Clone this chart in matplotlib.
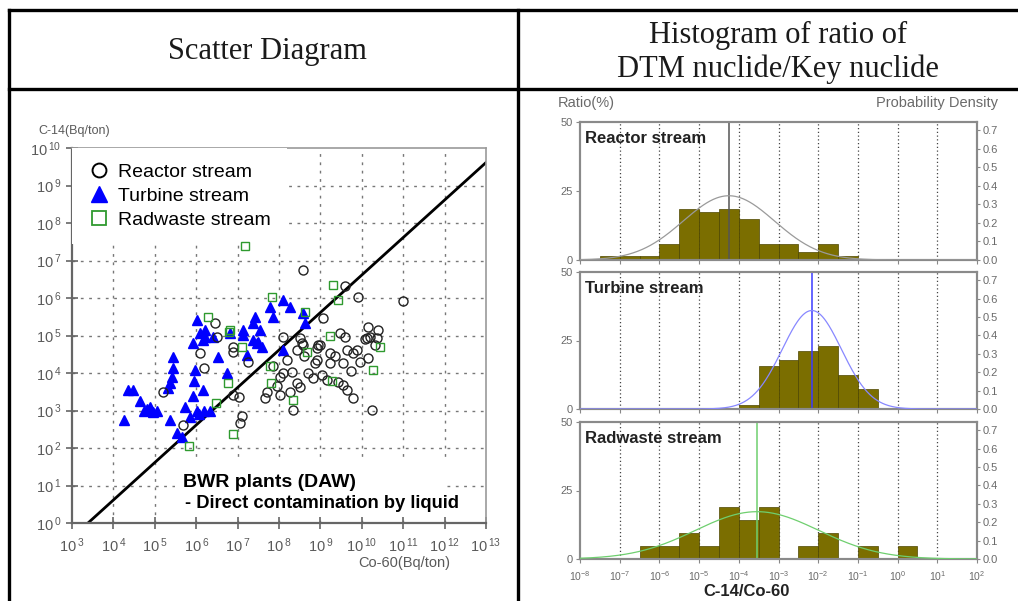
import matplotlib.pyplot as plt
import numpy as np
import matplotlib.ticker as ticker
from matplotlib.lines import Line2D
from matplotlib.patches import Rectangle

plt.rcParams['font.family'] = ['Liberation Sans', 'DejaVu Sans']
plt.rcParams['mathtext.default'] = 'regular'

# ---- scatter data, log10(Bq/ton) ----
reactor_co60 = [5.2, 5.68, 6.09, 6.19, 6.45, 6.5, 6.89, 6.89, 6.89, 7.03, 7.1, 7.06, 7.26,
                8.58, 9.59, 9.91, 11.0, 9.06, 8.1, 8.51, 8.58, 8.94, 9.47, 9.59, 10.15, 10.2,
                10.37, 10.08, 8.43, 8.55, 8.92, 8.99, 9.23, 9.64, 9.79, 9.88, 9.96, 10.13,
                10.32, 10.15, 8.92, 8.87, 9.23, 9.55, 8.19, 8.1, 8.31, 8.02, 8.7, 8.82, 9.04,
                9.16, 9.43, 9.55, 9.64, 9.79, 7.71, 7.66, 8.02, 8.27, 8.51, 8.34, 10.25, 8.43,
                7.85, 7.95, 8.6, 9.35, 9.75, 10.4]
reactor_c14 = [3.49, 2.61, 4.53, 4.13, 5.33, 4.96, 4.69, 4.56, 3.41, 3.36, 2.85, 2.67, 4.29,
               6.75, 6.32, 6.03, 5.92, 5.47, 4.96, 4.93, 4.75, 4.75, 5.07, 4.96, 5.23, 4.96,
               4.93, 4.9, 4.61, 4.8, 4.67, 4.75, 4.53, 4.61, 4.53, 4.61, 4.29, 4.93,
               4.75, 4.4, 4.35, 4.27, 4.27, 4.27, 4.35, 4.0, 4.03, 3.89, 4.0, 3.87, 3.95,
               3.81, 3.76, 3.68, 3.55, 3.33, 3.49, 3.33, 3.41, 3.49, 3.63, 3.01, 3.01, 3.73,
               4.2, 3.65, 4.45, 4.45, 4.05, 5.15]

turbine_co60 = [4.26, 4.35, 4.47, 4.64, 4.74, 4.88, 5.05, 4.95, 4.8, 5.37, 5.43, 5.44, 5.41,
                5.37, 5.33, 5.53, 5.65, 5.73, 5.85, 5.97, 5.95, 5.92, 6.01, 6.06, 6.17, 6.19,
                6.33, 6.53, 6.74, 6.01, 6.21, 6.17, 6.41, 6.82, 7.13, 7.42, 7.78, 7.86, 8.1,
                8.27, 8.58, 7.54, 8.63, 6.09, 6.21, 7.13, 7.23, 5.92, 7.37, 7.47, 7.6, 7.37,
                7.5, 8.1]
turbine_c14 = [2.75, 3.55, 3.55, 3.25, 3.0, 3.1, 3.0, 2.95, 3.05, 2.75, 4.43, 4.13, 3.9,
               3.73, 3.6, 2.4, 2.3, 3.1, 2.83, 4.08, 3.8, 3.4, 3.0, 2.9, 3.55, 3.0,
               3.0, 4.43, 4.0, 5.41, 5.15, 4.88, 4.96, 5.07, 5.15, 5.5, 5.76, 5.5, 5.95,
               5.76, 5.6, 5.15, 5.33, 5.07, 4.96, 5.01, 4.48, 4.8, 5.33, 4.8, 4.69, 4.88,
               4.83, 4.61]

radwaste_co60 = [7.19, 6.28, 6.82, 7.1, 6.77, 6.48, 6.89, 5.83, 7.83, 8.63, 9.3, 9.43, 9.23,
                 10.44, 8.67, 7.78, 10.27, 7.8, 9.28, 8.34, 6.79]
radwaste_c14 = [7.39, 5.49, 5.15, 4.69, 3.73, 3.2, 2.37, 2.05, 6.03, 5.63, 6.35, 5.95, 4.99,
                4.69, 4.56, 4.19, 4.08, 3.73, 3.79, 3.28, 5.09]

# C-14 = k * Co-60 scaling line
scaling_factor = 4.1e-4

# ---- histogram data: ratio (%) per half-decade bin of log10(C-14/Co-60) ----
bin_left = [-8.0, -7.5, -7.0, -6.5, -6.0, -5.5, -5.0, -4.5, -4.0, -3.5,
            -3.0, -2.5, -2.0, -1.5, -1.0, -0.5, 0.0, 0.5, 1.0, 1.5]
reactor_pct = [0, 1.4, 1.4, 1.4, 5.7, 18.6, 17.4, 18.6, 15.0, 5.7,
               5.7, 2.9, 5.7, 1.4, 0, 0, 0, 0, 0, 0]
turbine_pct = [0, 0, 0, 0, 0, 0, 0, 0, 1.4, 15.6,
               17.9, 21.2, 23.0, 12.4, 7.3, 0, 0, 0, 0, 0]
radwaste_pct = [0, 0, 0, 4.8, 4.8, 9.5, 4.8, 19.0, 14.3, 19.0,
                0, 4.8, 9.5, 0, 4.8, 0, 4.8, 0, 0, 0]

# log-normal fit: mean and standard deviation of log10(ratio)
fit_mean = {'Reactor stream': -4.25, 'Turbine stream': -2.16, 'Radwaste stream': -3.54}
fit_sd = {'Reactor stream': 1.15, 'Turbine stream': 0.745, 'Radwaste stream': 1.55}

W, H = 1018, 601
fig = plt.figure(figsize=(W / 100, H / 100), dpi=100)


def fx(px):
    return px / W


def fy(py):
    return 1 - py / H


# ---- table frame ----
for xs, ys in [((8.5, W), (10, 10)), ((8.5, W), (88.5, 88.5)),
               ((8.5, 8.5), (10, H)), ((518, 518), (10, H))]:
    fig.add_artist(Line2D([fx(x) for x in xs], [fy(y) for y in ys],
                          transform=fig.transFigure, color='k', lw=2.4))

hdr = dict(family='Liberation Serif', fontsize=22, ha='center', va='center', color='#1a1a1a')
fig.text(fx(267), fy(52), 'Scatter Diagram', **hdr)
fig.text(fx(778), fy(35), 'Histogram of ratio of', **hdr)
fig.text(fx(778), fy(69), 'DTM nuclide/Key nuclide', **hdr)

# ---- scatter diagram ----
gray = '#5a5a5a'
ax = fig.add_axes([fx(72), fy(523), fx(486) - fx(72), fy(148) - fy(523)])
ax.set_xscale('log')
ax.set_yscale('log')
ax.set_xlim(1e3, 1e13)
ax.set_ylim(1e0, 1e10)

for e in range(4, 13):
    ax.axvline(10.0 ** e, color='#777777', lw=1.0, ls=(0, (2, 4)), zorder=0)
for e in range(1, 10):
    ax.axhline(10.0 ** e, color='#777777', lw=1.0, ls=(0, (2, 4)), zorder=0)

ax.add_patch(Rectangle((0.249, 0.012), 0.656, 0.15, transform=ax.transAxes,
                       facecolor='white', edgecolor='none', zorder=1))

xl = np.array([1e3, 1e13])
ax.plot(xl, scaling_factor * xl, color='k', lw=2.0, zorder=2)

ax.plot(10 ** np.array(turbine_co60), 10 ** np.array(turbine_c14), ls='none', marker='^',
        ms=7.5, color='#0000ff', mec='#0000ff', zorder=3)
ax.plot(10 ** np.array(reactor_co60), 10 ** np.array(reactor_c14), ls='none', marker='o',
        ms=6.5, mfc='none', mec='#222222', mew=1.0, zorder=4)
ax.plot(10 ** np.array(radwaste_co60), 10 ** np.array(radwaste_c14), ls='none', marker='s',
        ms=6, mfc='none', mec='#2f9a2f', mew=1.0, zorder=5)

handles = [Line2D([], [], ls='none', marker='o', ms=10, mfc='none', mec='k', mew=1.4),
           Line2D([], [], ls='none', marker='^', ms=12, color='#0000ff'),
           Line2D([], [], ls='none', marker='s', ms=9.5, mfc='none', mec='#2f9a2f', mew=1.3)]
leg = ax.legend(handles, ['Reactor stream', 'Turbine stream', 'Radwaste stream'],
                loc='upper left', bbox_to_anchor=(0, 1), borderaxespad=0, borderpad=0.8,
                handlelength=1.2, handletextpad=0.38, labelspacing=0.32, fontsize=14,
                frameon=True, fancybox=False)
leg.get_frame().set_facecolor('white')
leg.get_frame().set_edgecolor('none')
leg.get_frame().set_alpha(1)
# legend box hides the grid but stays beneath the data markers
leg.set_zorder(2.5)

ax.text(0.268, 0.107, 'BWR plants (DAW)', transform=ax.transAxes, fontsize=14,
        fontweight='bold', va='center', ha='left', zorder=7)
ax.text(0.273, 0.053, '- Direct contamination by liquid', transform=ax.transAxes,
        fontsize=13.2, fontweight='bold', va='center', ha='left', zorder=7)

ax.xaxis.set_major_locator(ticker.FixedLocator([10.0 ** e for e in range(3, 14)]))
ax.yaxis.set_major_locator(ticker.FixedLocator([10.0 ** e for e in range(0, 11)]))
ax.xaxis.set_minor_locator(ticker.NullLocator())
ax.yaxis.set_minor_locator(ticker.NullLocator())
dec_fmt = ticker.FuncFormatter(lambda v, p: r'$10^{\,%d}$' % round(np.log10(v)))
ax.xaxis.set_major_formatter(dec_fmt)
ax.yaxis.set_major_formatter(dec_fmt)
ax.tick_params(direction='inout', length=8, width=1.2, color='#666666',
               labelcolor=gray, labelsize=10.5)
ax.tick_params(axis='x', pad=6)
for side in ['left', 'bottom']:
    ax.spines[side].set_color('#666666')
    ax.spines[side].set_linewidth(1.6)
for side in ['top', 'right']:
    ax.spines[side].set_color('#9a9a9a')
    ax.spines[side].set_linewidth(1.2)

fig.text(fx(38), fy(131), 'C-14(Bq/ton)', color=gray, fontsize=9, va='center')
fig.text(fx(404), fy(563), 'Co-60(Bq/ton)', color=gray, fontsize=10.5, va='center', ha='center')

# ---- histograms ----
olive = '#7b6e00'
hcol = '#6a6a6a'
panels = [('Reactor stream', reactor_pct, '#9a9a9a', '#555555', 122, 260),
          ('Turbine stream', turbine_pct, '#8888ff', '#3a3aff', 272, 409),
          ('Radwaste stream', radwaste_pct, '#6fcf6f', '#6fcf6f', 422, 559)]
xs = np.logspace(-8, 2, 600)
for i, (name, pct, curve_c, line_c, top, bot) in enumerate(panels):
    hx = fig.add_axes([fx(580), fy(bot), fx(977) - fx(580), fy(top) - fy(bot)])
    hx.set_xscale('log')
    hx.set_xlim(1e-8, 1e2)
    hx.set_ylim(0, 50)
    for e in range(-7, 2):
        hx.axvline(10.0 ** e, color='#444444', lw=0.9, ls=(0, (1, 2)), zorder=0)
    for left, h in zip(bin_left, pct):
        if h > 0:
            hx.bar(10 ** left, h, width=10 ** (left + 0.5) - 10 ** left, align='edge',
                   color=olive, edgecolor='#4d4500', lw=0.5, zorder=2)
    hx.axvline(10 ** fit_mean[name], color=line_c, lw=1.1, zorder=3)

    rx = hx.twinx()
    rx.set_ylim(0, 0.745)
    mu, sd = fit_mean[name], fit_sd[name]
    pdf = np.exp(-0.5 * ((np.log10(xs) - mu) / sd) ** 2) / (sd * np.sqrt(2 * np.pi))
    rx.plot(xs, pdf, color=curve_c, lw=0.9, zorder=4)
    rx.set_yticks(np.arange(0, 0.71, 0.1))
    rx.yaxis.set_major_formatter(ticker.FormatStrFormatter('%.1f'))
    rx.tick_params(direction='out', length=2, color='#888888', labelcolor=hcol,
                   labelsize=8, pad=2)

    hx.set_yticks([0, 25, 50])
    hx.xaxis.set_major_locator(ticker.FixedLocator([10.0 ** e for e in range(-8, 3)]))
    hx.xaxis.set_minor_locator(ticker.NullLocator())
    hx.tick_params(direction='out', length=3, color='#888888', labelcolor=hcol,
                   labelsize=8, pad=2)
    if i == 2:
        hx.xaxis.set_major_formatter(
            ticker.FuncFormatter(lambda v, p: r'$10^{%d}$' % round(np.log10(v))))
        hx.tick_params(axis='x', labelsize=7.5, pad=4)
    else:
        hx.set_xticklabels([])
    for a in (hx, rx):
        for s in a.spines.values():
            s.set_color('#8a8a8a')
            s.set_linewidth(1.5)
    hx.text(0.013, 0.88, name, transform=hx.transAxes, fontsize=12, fontweight='bold',
            color='#222222', va='center', ha='left')

fig.text(fx(558), fy(103), 'Ratio(%)', color=hcol, fontsize=10.5, va='center')
fig.text(fx(998), fy(103), 'Probability Density', color=hcol, fontsize=10.5,
         va='center', ha='right')
fig.text(fx(747), fy(592), 'C-14/Co-60', fontsize=12, fontweight='bold', va='center',
         ha='center', color='#222222')

fig.savefig('out.png', dpi=100)
